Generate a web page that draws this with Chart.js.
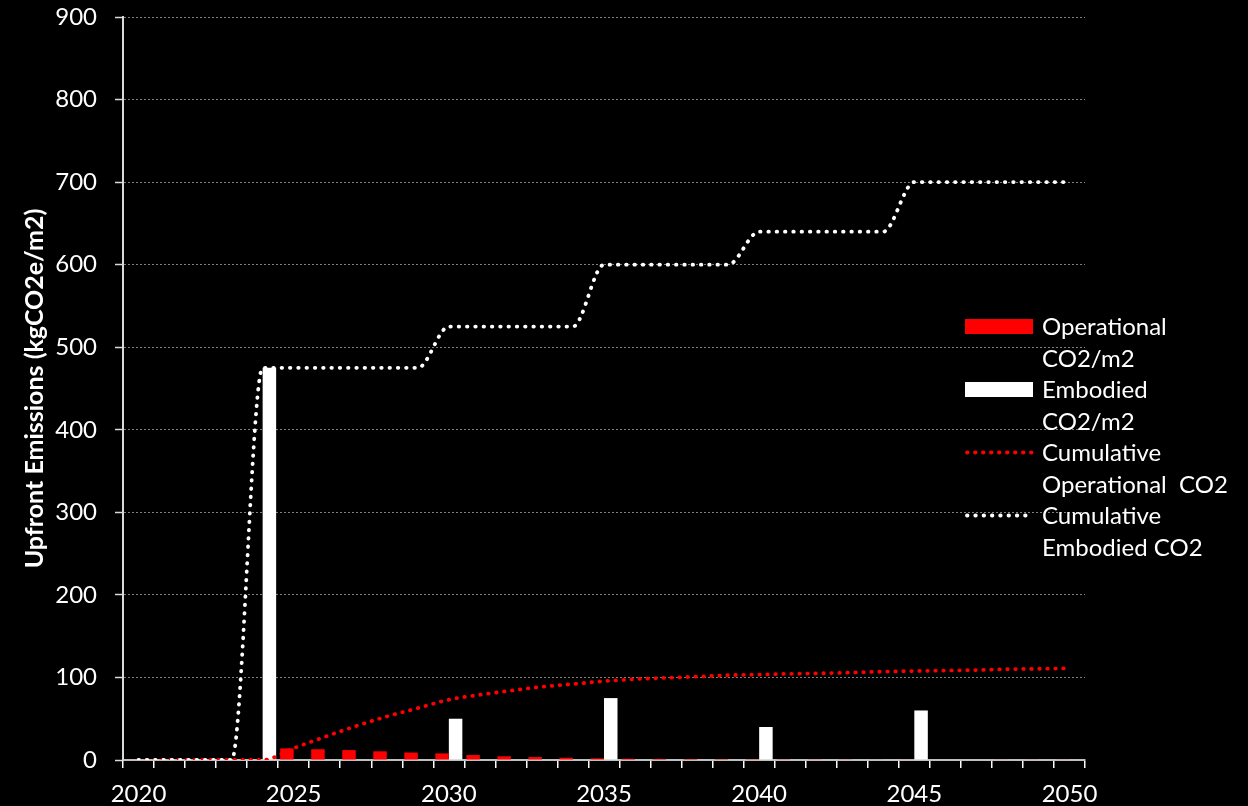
<!DOCTYPE html>
<html>
<head>
<meta charset="utf-8">
<script src="https://cdn.jsdelivr.net/npm/chart.js@4.4.0/dist/chart.umd.min.js"></script>
<style>
  html, body { margin: 0; padding: 0; background: #000; }
  #wrap { width: 1248px; height: 806px; }
</style>
</head>
<body>
<div id="wrap"><canvas id="emissions"></canvas></div>
<script>
const years = ['2020', '2021', '2022', '2023', '2024', '2025', '2026', '2027', '2028', '2029',
  '2030', '2031', '2032', '2033', '2034', '2035', '2036', '2037', '2038', '2039',
  '2040', '2041', '2042', '2043', '2044', '2045', '2046', '2047', '2048', '2049', '2050'];

const operational = [0, 0, 0, 0, 0, 14, 13, 12, 10.5, 9,
  8, 6, 4.5, 3.6, 2.8, 2, 1.6, 1.4, 1.2, 1.1,
  1, 0.9, 0.8, 0.8, 0.7, 0.7, 0.6, 0.6, 0.5, 0.5, 0.5];

const embodied = [0, 0, 0, 0, 475, 0, 0, 0, 0, 0,
  50, 0, 0, 0, 0, 75, 0, 0, 0, 0,
  40, 0, 0, 0, 0, 60, 0, 0, 0, 0, 0];

const cumulativeOperational = [0, 0, 0, 0, 0, 14.3, 28, 41, 52.7, 62.8,
  73, 79, 84, 88.7, 92, 95.5, 97.9, 99.5, 101, 102.7,
  103.5, 104.4, 105, 106, 107, 107.8, 108.4, 109, 110, 110.5, 111];

const cumulativeEmbodied = [0, 0, 0, 0, 475, 475, 475, 475, 475, 475,
  525, 525, 525, 525, 525, 600, 600, 600, 600, 600,
  640, 640, 640, 640, 640, 700, 700, 700, 700, 700, 700];

// legend text as it wraps in the original
const legendLines = [
  ['Operational', 'CO2/m2'],
  ['Embodied', 'CO2/m2'],
  ['Cumulative', 'Operational  CO2'],
  ['Cumulative', 'Embodied CO2']
];

const FONT = 'Lato';

// legend sits over the right part of the plot, like the excel one
const sideLegend = {
  id: 'sideLegend',
  afterDraw(chart) {
    const ctx = chart.ctx;
    ctx.save();
    ctx.font = '24px ' + FONT;
    ctx.textBaseline = 'alphabetic';
    chart.data.datasets.forEach((ds, i) => {
      const base = 335 + i * 63;
      const mid = base - 8.5;
      if (ds.type === 'bar') {
        ctx.fillStyle = ds.backgroundColor;
        ctx.fillRect(965, mid - 7.5, 68, 15);
      } else {
        ctx.strokeStyle = ds.borderColor;
        ctx.lineWidth = ds.borderWidth;
        ctx.lineCap = 'round';
        ctx.setLineDash(ds.borderDash);
        ctx.beginPath();
        ctx.moveTo(967, mid);
        ctx.lineTo(1033, mid);
        ctx.stroke();
        ctx.setLineDash([]);
      }
      ctx.fillStyle = '#ffffff';
      legendLines[i].forEach((t, k) => ctx.fillText(t, 1042, base + k * 32));
    });
    ctx.restore();
  }
};

new Chart(document.getElementById('emissions'), {
  data: {
    labels: years,
    datasets: [
      {
        type: 'bar',
        label: 'Operational CO2/m2',
        data: operational,
        backgroundColor: '#ff0000',
        order: 2
      },
      {
        type: 'bar',
        label: 'Embodied CO2/m2',
        data: embodied,
        backgroundColor: '#ffffff',
        order: 2
      },
      {
        type: 'line',
        label: 'Cumulative Operational CO2',
        data: cumulativeOperational,
        borderColor: '#ff0000',
        borderWidth: 3.8,
        borderDash: [0.5, 7.5],
        borderCapStyle: 'round',
        pointRadius: 0,
        cubicInterpolationMode: 'monotone',
        order: 1
      },
      {
        type: 'line',
        label: 'Cumulative Embodied CO2',
        data: cumulativeEmbodied,
        borderColor: '#ffffff',
        borderWidth: 3.8,
        borderDash: [0.5, 7.8],
        borderCapStyle: 'round',
        pointRadius: 0,
        cubicInterpolationMode: 'monotone',
        order: 0
      }
    ]
  },
  options: {
    responsive: true,
    maintainAspectRatio: false,
    animation: false,
    layout: { padding: { top: 17, right: 163, left: 0, bottom: 0 } },
    plugins: {
      legend: { display: false },
      tooltip: { enabled: false }
    },
    datasets: {
      bar: { categoryPercentage: 0.87, barPercentage: 1 }
    },
    scales: {
      x: {
        type: 'category',
        offset: true,
        grid: {
          offset: true,
          drawOnChartArea: false,
          tickLength: 8,
          color: '#ffffff',
          lineWidth: 1.5
        },
        border: { display: true, color: '#bfbfbf', width: 2 },
        ticks: {
          autoSkip: false,
          maxRotation: 0,
          padding: 12,
          color: '#ffffff',
          font: { family: FONT, size: 24 },
          callback(v, i) { return i % 5 === 0 ? this.getLabelForValue(v) : ''; }
        },
        afterFit(s) { s.height = 46; }
      },
      y: {
        min: 0,
        max: 900,
        ticks: {
          stepSize: 100,
          padding: 18,
          color: '#ffffff',
          font: { family: FONT, size: 24 }
        },
        grid: {
          color: '#808080',
          lineWidth: 1,
          tickLength: 8,
          tickColor: '#d9d9d9',
          tickWidth: 1.5,
          tickBorderDash: []
        },
        border: { display: true, color: '#d9d9d9', width: 2, dash: [2, 2] },
        title: {
          display: true,
          text: 'Upfront Emissions (kgCO2e/m2)',
          color: '#ffffff',
          font: { family: FONT, size: 25, weight: 'bold' },
          padding: { top: 20, bottom: 0 }
        },
        // fixed width; tick padding should not push the plot top down
        afterFit(s) {
          s.width = 123;
          s.paddingTop = 0;
          s.paddingBottom = 0;
        }
      }
    }
  },
  plugins: [sideLegend]
});
</script>
</body>
</html>
